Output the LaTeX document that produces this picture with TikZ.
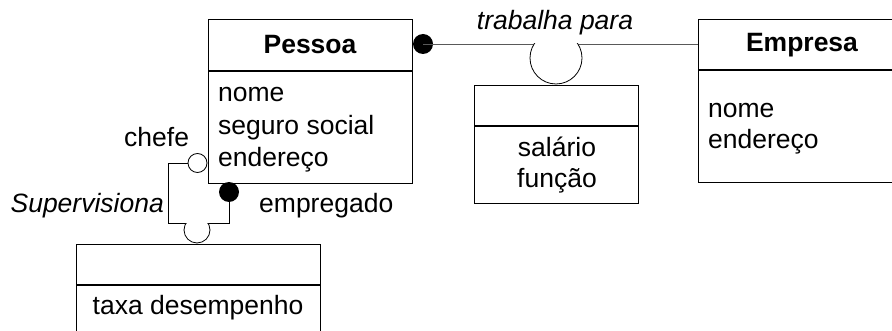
\documentclass[tikz,border=0pt]{standalone}
\usepackage{fontspec}
\setmainfont{Liberation Sans}
\begin{document}
\begin{tikzpicture}[x=1pt,y=-1pt,
  box/.style={draw=black,line width=1.2pt,fill=white,inner sep=0pt,anchor=north west},
  txt/.style={inner sep=0pt,font=\fontsize{26.5}{32}\selectfont},
  ttl/.style={txt,font=\fontsize{26.5}{32}\selectfont\bfseries},
  itl/.style={txt,font=\fontsize{26.5}{32}\selectfont\itshape},
  rel/.style={draw=black,line width=0.9pt},
  grayrel/.style={draw=black!65,line width=0.9pt},
  opendot/.style={circle,draw=black,line width=0.8pt,fill=white,inner sep=0pt},
  filldot/.style={circle,fill=black,inner sep=0pt,minimum size=20pt}]
\clip (0,0) rectangle (892,331);
% Supervisiona connector (behind boxes)
\coordinate (empc) at (229,192);
\node[opendot,minimum size=19pt] (chefedot) at (197.5,163) {};
\coordinate (sv1) at (229,223);
\coordinate (sv2) at (168,223);
\coordinate (sv3) at (168,163);
\draw[rel] (empc) -- (sv1) -- (sv2) -- (sv3) -- (chefedot.west);
% Pessoa
\node[box,minimum width=204pt,minimum height=164pt] (pessoa) at (208,19) {};
\draw[line width=1.2pt] (208,71) -- (412,71);
\node[ttl] (pessoaT) at (310,45) {Pessoa};
\node[txt,anchor=base west] (p1) at (218,102) {nome};
\node[txt,anchor=base west] (p2) at (218,134.5) {seguro social};
\node[txt,anchor=base west] (p3) at (218,167) {endereço};
\node[filldot] (empdot) at (empc) {};
% Empresa
\node[box,minimum width=208pt,minimum height=163pt] (empresa) at (698,19) {};
\draw[line width=1.2pt] (698,70) -- (906,70);
\node[ttl] (empresaT) at (802,45) {Empresa};
\node[txt,anchor=base west] (e1) at (708,118) {nome};
\node[txt,anchor=base west] (e2) at (708,149) {endereço};
% trabalha para
\node[filldot] (pdot) at (423,44) {};
\draw[grayrel] (pdot.center) -- (pdot.center -| empresa.west);
\node[itl,anchor=base] (trab) at (555,30) {trabalha para};
\begin{scope}
\clip (520,43.5) rectangle (592,90);
\node[opendot,minimum size=52pt] (linkc) at (556,58) {};
\end{scope}
% link box
\node[box,minimum width=164pt,minimum height=118pt] (link) at (474,85) {};
\draw[line width=1.2pt] (474,126) -- (638,126);
\node[txt,anchor=base] (l1) at (557,157) {salário};
\node[txt,anchor=base] (l2) at (557,188) {função};
% Supervisiona link circle and box
\begin{scope}
\clip (180,223.5) rectangle (215,250);
\node[opendot,minimum size=26pt] (supc) at (197,230) {};
\end{scope}
\node[box,minimum width=244pt,minimum height=100pt] (taxa) at (76,244) {};
\draw[line width=1.2pt] (76,285) -- (320,285);
\node[txt,anchor=base] (t1) at (198,315) {taxa desempenho};
% labels
\node[itl,anchor=base east] (sup) at (164,213) {Supervisiona};
\node[txt,anchor=base west] (empl) at (259,213) {empregado};
\node[txt,anchor=base west] (chefl) at (124,147) {chefe};
\end{tikzpicture}
\end{document}
